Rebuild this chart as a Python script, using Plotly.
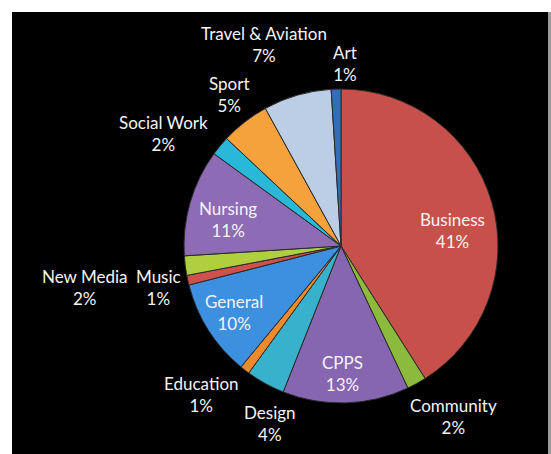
import math
import plotly.graph_objects as go

# Enrolment share by school, clockwise from 12 o'clock
categories = ["Business", "Community", "CPPS", "Design", "Education", "General",
              "Music", "New Media", "Nursing", "Social Work", "Sport",
              "Travel & Aviation", "Art"]
shares = [41, 2, 13, 4, 1, 10, 1, 2, 11, 2, 5, 7, 1]

slice_colors = ["#c8504a", "#8cba3c", "#8666b0", "#38b2cc", "#ee8a2c", "#3d8fe0",
                "#d0504d", "#b0cf3e", "#8e6bb5", "#2ab8d8", "#f5a23c",
                "#bccde6", "#2f6fb8"]

# label placement: (distance from centre as a multiple of the radius, angular nudge in degrees)
label_place = {
    "Business": (0.72, 8.1),
    "Community": (1.30, -4.7),
    "CPPS": (0.81, 1.1),
    "Design": (1.22, -7.0),
    "Education": (1.30, 5.5),
    "General": (0.80, 0.4),
    "Music": (1.195, -0.2),
    "New Media": (1.65, -2.0),
    "Nursing": (0.74, -3.2),
    "Social Work": (1.34, -7.3),
    "Sport": (1.20, 1.5),
    "Travel & Aviation": (1.375, -4.8),
    "Art": (1.165, 3.1),
}

W, H = 551, 454
CX, CY, R = 341, 246, 157  # pie centre and radius in pixels

fig = go.Figure(go.Pie(
    labels=categories,
    values=shares,
    sort=False,
    direction="clockwise",
    rotation=0,
    textinfo="none",
    hoverinfo="label+percent",
    marker=dict(colors=slice_colors, line=dict(color="#2a2a2a", width=1)),
    domain=dict(x=[(CX - R) / W, (CX + R) / W],
                y=[1 - (CY + R) / H, 1 - (CY - R) / H]),
    showlegend=False,
))

# slice labels, positioned from each slice's mid-angle
total = sum(shares)
annotations = []
cum = 0
for name, val in zip(categories, shares):
    mid = (cum + val / 2) / total * 360
    cum += val
    factor, nudge = label_place[name]
    ang = math.radians(mid + nudge)
    px = CX + factor * R * math.sin(ang)
    py = CY - factor * R * math.cos(ang)
    annotations.append(dict(
        x=px / W, y=1 - py / H, xref="paper", yref="paper",
        text=f"{name}<br>{round(val / total * 100)}%",
        showarrow=False, xanchor="center", yanchor="middle",
        font=dict(family="Lato", size=17, color="#f4f4f4"),
    ))

fig.update_layout(
    width=W, height=H,
    margin=dict(l=0, r=0, t=0, b=0),
    paper_bgcolor="white",
    plot_bgcolor="white",
    annotations=annotations,
    shapes=[
        dict(type="rect", xref="paper", yref="paper", layer="below",
             x0=12 / W, x1=548 / W, y0=0, y1=1 - 12 / H,
             fillcolor="black", line=dict(width=0)),
        dict(type="rect", xref="paper", yref="paper", layer="below",
             x0=548 / W, x1=1, y0=0, y1=1 - 12 / H,
             fillcolor="#9a9a9a", line=dict(width=0)),
    ],
)

fig.write_html("out.html")
